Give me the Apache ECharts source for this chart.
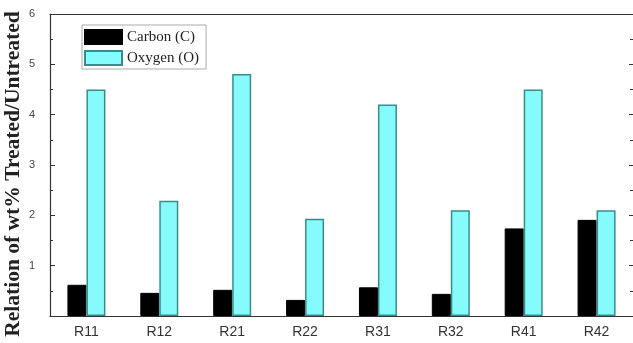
<!DOCTYPE html>
<html>
<head>
<meta charset="utf-8">
<script src="https://cdn.jsdelivr.net/npm/echarts@6/dist/echarts.min.js"></script>
<style>html,body{margin:0;padding:0;background:#fff}#c{width:633px;height:343px}</style>
</head>
<body>
<div id="c"></div>
<script>
const categories = ['R11','R12','R21','R22','R31','R32','R41','R42'];
const carbon = [0.62, 0.46, 0.52, 0.32, 0.57, 0.44, 1.74, 1.91];
const oxygen = [4.50, 2.29, 4.81, 1.93, 4.20, 2.10, 4.50, 2.10];
const yTicks = [1, 2, 3, 4, 5, 6];
const yTitle = 'Relation of wt% Treated/Untreated';

const chart = echarts.init(document.getElementById('c'));
const axisCol = '#333';
chart.setOption({
  animation: false,
  backgroundColor: '#fff',
  grid: { left: 50, right: 0, top: 14, bottom: 27 },
  graphic: [{
    type: 'text', x: 13, y: 174, rotation: Math.PI / 2,
    style: {
      text: yTitle, fontFamily: 'Liberation Serif', fontWeight: 'bold', fontSize: 21.5,
      fill: '#222', align: 'center', verticalAlign: 'middle'
    }
  }],
  legend: {
    orient: 'vertical', left: 82, top: 25,
    itemWidth: 37, itemHeight: 14, itemGap: 5,
    padding: [4, 7, 3, 2],
    borderColor: '#aaa', borderWidth: 1,
    icon: 'rect',
    textStyle: { fontFamily: 'Liberation Serif', fontSize: 15, color: '#222' },
    data: ['Carbon (C)', 'Oxygen (O)']
  },
  xAxis: [
    {
      type: 'category', data: categories, position: 'bottom',
      axisLine: { lineStyle: { color: axisCol, width: 1.2 } },
      axisTick: { alignWithLabel: true, length: 5, lineStyle: { color: axisCol } },
      axisLabel: { fontFamily: 'Liberation Sans', fontSize: 14, color: '#333', margin: 9 }
    },
    {
      type: 'category', data: categories, position: 'bottom', gridIndex: 0,
      axisLine: { show: false },
      axisTick: { length: 3, lineStyle: { color: axisCol } },
      axisLabel: { show: false }
    },
    {
      type: 'category', data: categories, position: 'top',
      axisLine: { lineStyle: { color: axisCol, width: 1.2 } },
      axisTick: { alignWithLabel: true, inside: true, length: 5, lineStyle: { color: axisCol } },
      axisLabel: { show: false }
    },
    {
      type: 'category', data: categories, position: 'top',
      axisLine: { show: false },
      axisTick: { inside: true, length: 3, lineStyle: { color: axisCol } },
      axisLabel: { show: false }
    }
  ],
  yAxis: [
    {
      type: 'value', min: 0, max: 6, interval: 1,
      axisLine: { show: true, lineStyle: { color: axisCol, width: 1.2 } },
      axisTick: { show: true, inside: true, length: 5, lineStyle: { color: axisCol } },
      minorTick: { show: true, splitNumber: 2, length: 3, lineStyle: { color: axisCol } },
      splitLine: { show: false },
      axisLabel: {
        fontFamily: 'Liberation Sans', fontSize: 11, color: '#444', margin: 15,
        formatter: v => (yTicks.indexOf(v) >= 0 ? String(v) : '')
      }
    },
    {
      type: 'value', min: 0, max: 6, interval: 1, position: 'right',
      axisLine: { show: false },
      axisTick: { show: true, inside: true, length: 4, lineStyle: { color: axisCol } },
      minorTick: { show: true, splitNumber: 2, length: 3, lineStyle: { color: axisCol } },
      splitLine: { show: false },
      axisLabel: { show: false }
    }
  ],
  series: [
    {
      name: 'Carbon (C)', type: 'bar', data: carbon, barWidth: 19, barGap: '0%',
      itemStyle: { color: '#000', borderColor: '#000', borderWidth: 1 }
    },
    {
      name: 'Oxygen (O)', type: 'bar', data: oxygen, barWidth: 19, barGap: '0%',
      itemStyle: { color: '#86fbfb', borderColor: '#3a8c8c', borderWidth: 1.5 }
    }
  ]
});
</script>
</body>
</html>
